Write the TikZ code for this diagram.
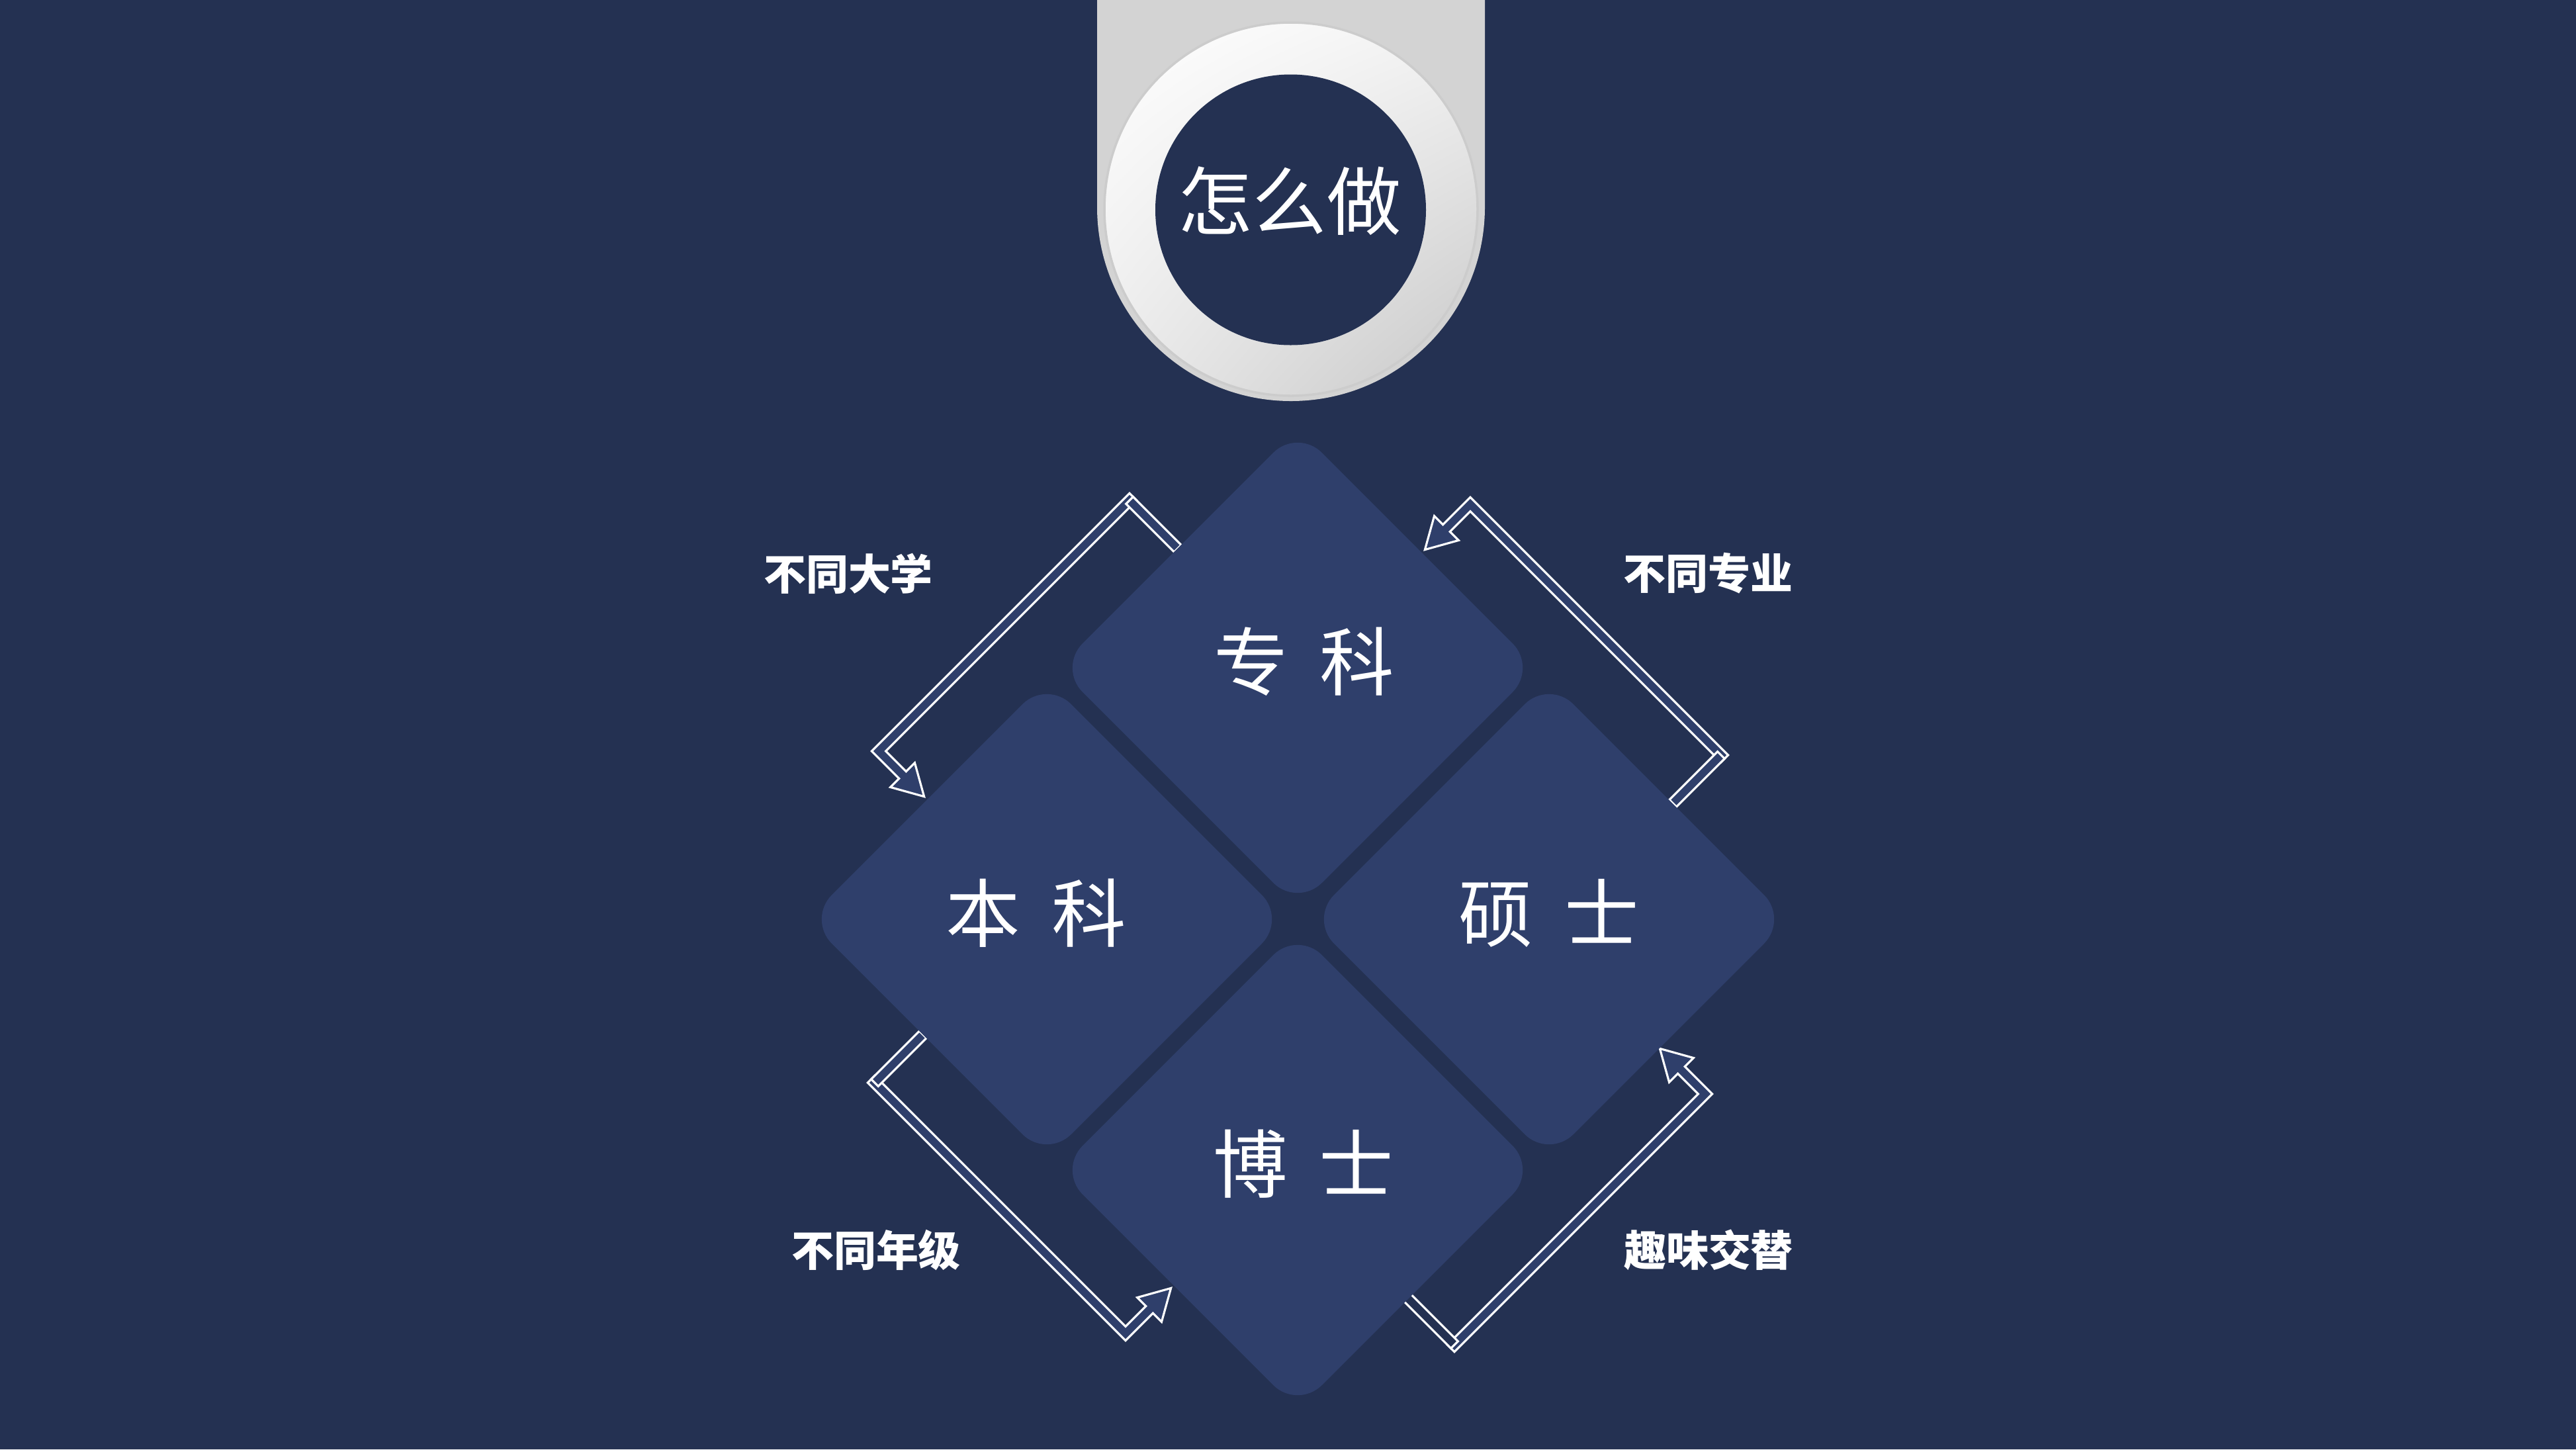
\documentclass[tikz,border=0pt]{standalone}
\usepackage{fontspec}
\usetikzlibrary{shapes.geometric,shadings}
\newfontfamily\cjk{Noto Sans CJK SC}
\definecolor{bgnavy}{HTML}{243152}
\definecolor{tilenavy}{HTML}{2F3F6B}
\definecolor{tabgray}{HTML}{D3D3D3}

\begin{document}
\begin{tikzpicture}[
    tile/.style={diamond, aspect=1, minimum width=7.24cm, minimum height=7.24cm, inner sep=0pt,
        rounded corners=0.52cm, fill=tilenavy, text=white, text height=0.93cm, text depth=0.26cm,
        font=\cjk\fontsize{32pt}{36pt}\selectfont},
    tag/.style={text=white, inner sep=0pt, font=\cjk\bfseries\fontsize{18.2pt}{20pt}\selectfont},
    bentarrow/.style={draw=white, line width=0.9pt, line join=miter}
]
\useasboundingbox (0,0) rectangle (38.93,-21.90);
\fill[bgnavy] (0,0) rectangle (38.93,-21.90);

\fill[tabgray] (16.58,0) -- (16.58,-3.13) arc (180:360:2.93) -- (22.44,0) -- cycle;
\shade[upper left=white, upper right=black!5, lower left=black!8, lower right=black!22] (19.51,-3.16) circle (2.82);
\draw[black!20, line width=1pt] (19.51,-3.16) circle (2.82);
\fill[bgnavy] (19.505,-3.17) circle (2.045);
\node[text=white, inner sep=0pt, font=\cjk\fontsize{32pt}{36pt}\selectfont] (how) at (19.49,-3.035) {怎么做};

\foreach \x/\y/\a/\l/\c in {17.07/-7.56/225/1.03/tilenavy, 26.01/-11.41/135/1.03/tilenavy,
    13.22/-16.36/-45/1.03/tilenavy, 21.98/-20.32/45/1.12/bgnavy} {
  \begin{scope}[shift={(\x,\y)}, rotate=\a]
    \filldraw[bentarrow, fill=tilenavy] (-0.075,-0.075) -- (5.435,-0.075) -- (5.435,0.51) -- (5.62,0.51)
        -- (5.36,0.97) -- (5.10,0.51) -- (5.285,0.51) -- (5.285,0.075) -- (-0.075,0.075) -- cycle;
    \filldraw[bentarrow, fill=\c] (-0.075,0) rectangle (0.075,\l);
  \end{scope}
}

\node[tile] (zhuanke) at (19.61,-10.09) {\kern0.2cm 专\hspace{0.42em}科};
\node[tile] (benke) at (15.82,-13.89) {本\hspace{0.42em}科\kern0.32cm};
\node[tile] (shuoshi) at (23.41,-13.89) {硕\hspace{0.42em}士};
\node[tile] (boshi) at (19.61,-17.68) {\kern0.18cm 博\hspace{0.42em}士};

\node[tag] (daxue) at (12.82,-8.665) {不同大学};
\node[tag] (zhuanye) at (25.815,-8.665) {不同专业};
\node[tag] (nianji) at (13.24,-18.885) {不同年级};
\node[tag] (quwei) at (25.82,-18.885) {趣味交替};
\end{tikzpicture}
\end{document}
